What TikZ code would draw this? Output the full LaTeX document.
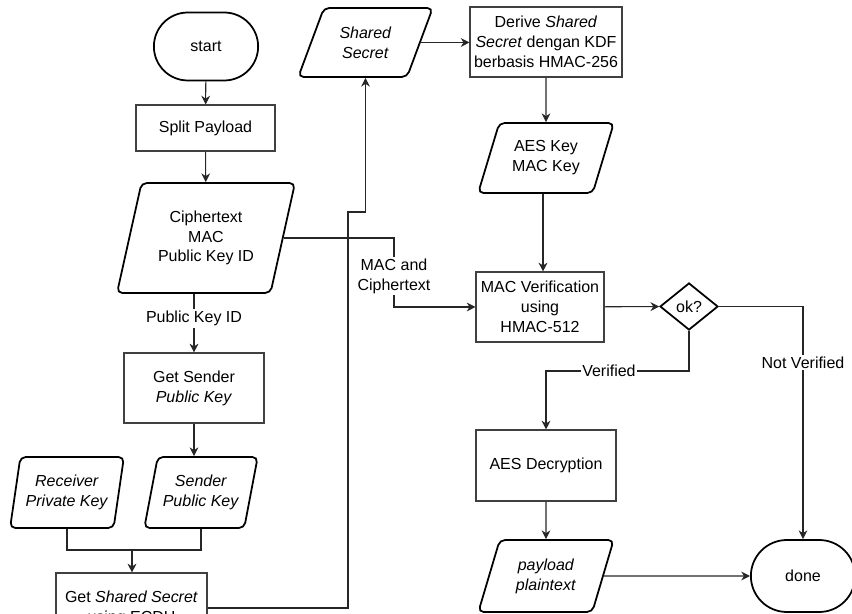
\documentclass[tikz,border=0pt]{standalone}
\usepackage{fontspec}
\setmainfont{Liberation Sans}
\usetikzlibrary{positioning}
\usetikzlibrary{arrows.meta}
\usetikzlibrary{shapes.geometric}
\usetikzlibrary{shapes.misc}

\begin{document}
\begin{tikzpicture}[x=0.02cm, y=-0.02cm,
    every node/.style={font=\fontsize{9.1}{11.3}\selectfont, align=center},
    proc/.style={draw=black!75, line width=0.6pt, minimum height=1.4cm, inner sep=1pt},
    io/.style={trapezium, trapezium left angle=#1, trapezium right angle=180-#1,
        trapezium stretches=true, draw, line width=1pt, rounded corners=3pt,
        inner sep=1pt, minimum height=1.4cm},
    term/.style={rounded rectangle, draw, line width=1pt, minimum width=2.32cm, minimum height=1.36cm},
    dec/.style={diamond, draw, line width=1pt, inner sep=0pt, minimum width=1.16cm, minimum height=0.94cm},
    lbl/.style={fill=white, inner sep=1pt},
    flow/.style={draw=black!85, line width=0.6pt, -{Stealth[length=5pt,width=5pt]}}]
    \useasboundingbox (0,0) rectangle (852,614);
    \clip (0,0) rectangle (852,614);

    % left column
    \node[term] (start) at (206,46.5) {start};
    \node[proc, minimum width=2.78cm, minimum height=0.92cm] (split) at (205.5,128) {Split Payload};
    \node[io=72, minimum width=3.56cm, minimum height=2.2cm] (cipher) at (206,238) {Ciphertext\\MAC\\Public Key ID};
    \node[proc, minimum width=2.8cm] (getpk) at (194,388) {Get Sender\\\textit{Public Key}};
    \node[io=76, minimum width=2.28cm, minimum height=1.42cm] (recv) at (67,492.5) {\textit{Receiver}\\\textit{Private Key}};
    \node[io=72, minimum width=2.28cm, minimum height=1.42cm] (sendpk) at (201,492.5) {\textit{Sender}\\\textit{Public Key}};
    \node[proc, minimum width=3.02cm] (getss) at (131.5,608) {Get \textit{Shared Secret}\\using ECDH};
    \coordinate (join) at (132,550);

    % right part
    \node[io=64, minimum width=2.7cm, minimum height=1.38cm] (shared) at (365.5,42.5) {\textit{Shared}\\\textit{Secret}};
    \node[proc, minimum width=3.04cm] (derive) at (546,42) {Derive \textit{Shared}\\\textit{Secret} dengan KDF\\berbasis HMAC-256};
    \node[io=67, minimum width=2.72cm] (keys) at (546,158) {AES Key\\MAC Key};
    \node[proc, minimum width=2.56cm] (macv) at (540,307) {MAC Verification\\using\\HMAC-512};
    \node[dec] (ok) at (689,306.5) {ok?};
    \node[proc, minimum width=2.8cm, minimum height=1.42cm] (aesdec) at (546,465.5) {AES Decryption};
    \node[io=69, minimum width=2.72cm, minimum height=1.44cm] (plain) at (546,576) {\textit{payload}\\\textit{plaintext}};
    \node[term, minimum height=1.44cm] (done) at (803,576) {done};
    \coordinate (ssturn) at (348,212);
    \coordinate (mcturn) at (394,276);
    \coordinate (vturn) at (546,371);

    % connectors
    \draw[flow] (start) -- (split);
    \draw[flow] (split) -- (cipher);
    \draw[flow] (cipher.south -| getpk) -- node[lbl, pos=0.42] {Public Key ID} (getpk);
    \draw[flow] (getpk) -- (getpk.south |- sendpk.north);
    \draw[draw=black!85, line width=0.6pt] (recv.south) |- (join) -| (sendpk.south);
    \draw[flow] (join) -- (getss.north -| join);
    \draw[flow] (getss.east) -| (ssturn) -| (shared.south);
    \draw[flow] (shared.east) -- (derive.west |- shared.east);
    \draw[flow] (derive) -- (keys);
    \draw[flow] (keys.south -| 543,0) -- (macv.north -| 543,0);
    \draw[flow] (cipher.east) -| (mcturn) |- (macv.west);
    \node[lbl] at (mcturn) {MAC and\\Ciphertext};
    \draw[flow] (macv) -- (ok);
    \draw[flow] (ok.east) -| node[lbl, pos=0.62] {Not Verified} (done.north);
    \draw[flow] (ok.south) |- node[lbl, pos=0.78] {Verified} (vturn) -- (aesdec.north);
    \draw[flow] (aesdec) -- (plain);
    \draw[flow] (plain.east) -- (done.west);
\end{tikzpicture}
\end{document}
